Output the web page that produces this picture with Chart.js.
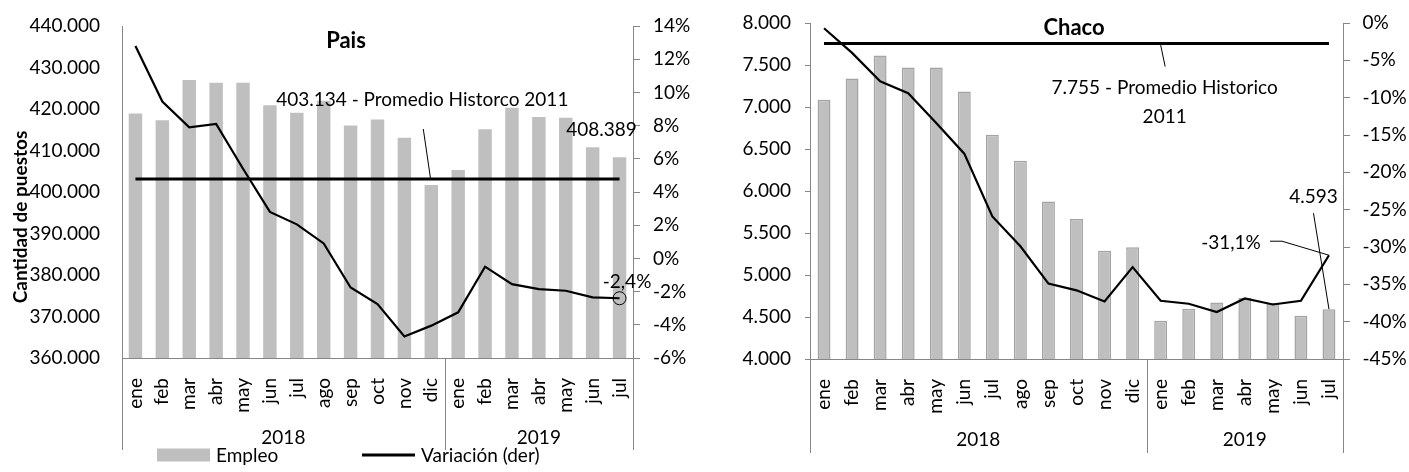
<!DOCTYPE html>
<html><head><meta charset="utf-8">
<script src="https://cdn.jsdelivr.net/npm/chart.js@4/dist/chart.umd.min.js"></script>
<style>
html,body{margin:0;padding:0;background:#fff;}
#wrap{position:relative;width:1409px;height:472px;overflow:hidden;}
canvas{position:absolute;top:0;}
#c1{left:0;}
#c2{left:700px;}
</style></head><body>
<div id="wrap">
<canvas id="c1" width="700" height="472"></canvas>
<canvas id="c2" width="709" height="472"></canvas>
</div>
<script>
// ---------- DATA ----------
const months = ['ene','feb','mar','abr','may','jun','jul','ago','sep','oct','nov','dic','ene','feb','mar','abr','may','jun','jul'];
const years = ['2018','2019'];
const yearSpans = [12, 7];

const paisEmpleo = [418900,417300,427000,426300,426300,420900,419100,422000,416000,417500,413100,401700,405300,415100,420300,418100,417900,410800,408389];
const paisVar = [12.8,9.45,7.9,8.1,5.4,2.8,2.05,0.9,-1.75,-2.75,-4.7,-4.05,-3.25,-0.5,-1.55,-1.85,-1.95,-2.35,-2.4];
const paisAvg = 403134;
const paisLeftTicks = [360000,370000,380000,390000,400000,410000,420000,430000,440000];
const paisRightTicks = [-6,-4,-2,0,2,4,6,8,10,12,14];

const chacoEmpleo = [7087,7340,7614,7471,7471,7186,6670,6361,5876,5667,5289,5329,4456,4595,4674,4726,4667,4515,4593];
const chacoVar = [-0.7,-4.0,-7.8,-9.4,-13.4,-17.5,-25.9,-29.9,-34.9,-35.8,-37.3,-32.7,-37.2,-37.6,-38.7,-36.9,-37.7,-37.2,-31.1];
const chacoAvg = 7755;
const chacoLeftTicks = [4000,4500,5000,5500,6000,6500,7000,7500,8000];
const chacoRightTicks = [-45,-40,-35,-30,-25,-20,-15,-10,-5,0];

// ---------- STYLE ----------
const FONT = 'Lato, "Open Sans", sans-serif';
const FS = 19;
const AXIS = '#868686';
const BAR = '#bfbfbf';
const BAR_EDGE = '#a3a3a3';
Chart.defaults.font.family = FONT;
Chart.defaults.font.size = FS;
Chart.defaults.color = '#000';

const fmtThousands = v => Math.round(v).toString().replace(/\B(?=(\d{3})+(?!\d))/g, '.');
const fmtPct = v => (Math.round(v*10)/10).toString().replace('.', ',') + '%';

function setTicks(arr){ return s => { s.ticks = arr.map(v => ({value: v})); }; }

// ---------- DECORATION PLUGIN ----------
const decor = {
  id: 'decor',
  afterDraw(chart, args, o) {
    const ctx = chart.ctx, x = chart.scales.x, y = chart.scales.y, y1 = chart.scales.y1, ca = chart.chartArea;
    const n = months.length;
    ctx.save();
    // category group separators
    ctx.strokeStyle = AXIS; ctx.lineWidth = 1;
    const bounds = [ca.left];
    let idx = 0;
    yearSpans.forEach(k => {
      idx += k;
      bounds.push(idx >= n ? ca.right : (x.getPixelForValue(idx-1) + x.getPixelForValue(idx)) / 2);
    });
    bounds.forEach(b => {
      const bx = Math.round(b) + 0.5;
      ctx.beginPath(); ctx.moveTo(bx, ca.bottom); ctx.lineTo(bx, o.sepBottom); ctx.stroke();
    });
    ctx.fillStyle = '#000';
    ctx.textAlign = 'center'; ctx.textBaseline = 'middle';
    ctx.font = FS + 'px ' + FONT;
    years.forEach((yr, i) => ctx.fillText(yr, (bounds[i] + bounds[i+1]) / 2, o.yearY));

    // y-axis title
    if (o.yTitle) {
      ctx.save();
      ctx.font = 'bold ' + FS + 'px ' + FONT;
      ctx.translate(o.yTitleX, o.yTitleY);
      ctx.rotate(-Math.PI / 2);
      ctx.fillText(o.yTitle, 0, 0);
      ctx.restore();
    }

    // title
    ctx.font = 'bold 22px ' + FONT;
    ctx.fillText(o.title, o.titleX, o.titleY);

    // average label with leader
    ctx.font = FS + 'px ' + FONT;
    const ax = x.getPixelForValue(o.avgIdx), ay = y.getPixelForValue(o.avg);
    o.avgLines.forEach((t, i) => ctx.fillText(t, ax + o.avgText[0], ay + o.avgText[1] + i * o.avgLineGap));
    ctx.strokeStyle = '#000'; ctx.lineWidth = 1;
    ctx.beginPath();
    ctx.moveTo(ax + o.avgLead[0], ay + o.avgLead[1]);
    ctx.lineTo(ax + o.avgLead[2], ay + o.avgLead[3]);
    ctx.stroke();

    // last bar value label
    const last = n - 1;
    const bx = x.getPixelForValue(last), by = y.getPixelForValue(o.empleo[last]);
    ctx.fillText(fmtThousands(o.empleo[last]), bx + o.barLbl[0], by + o.barLbl[1]);
    if (o.barLead) {
      ctx.beginPath(); ctx.moveTo(bx + o.barLead[0], by + o.barLead[1]); ctx.lineTo(bx, by); ctx.stroke();
    }
    // last line value label
    const lx = x.getPixelForValue(last), ly = y1.getPixelForValue(o.variation[last]);
    ctx.fillText(fmtPct(o.variation[last]), lx + o.varLbl[0], ly + o.varLbl[1]);
    if (o.varLead) {
      ctx.beginPath();
      ctx.moveTo(lx + o.varLead[0], ly + o.varLead[1]);
      ctx.lineTo(lx + o.varLead[2], ly + o.varLead[3]);
      ctx.lineTo(lx, ly);
      ctx.stroke();
    }

    // legend
    const ds = chart.data.datasets;
    const bar = ds[2], ln = ds[0];
    const L = o.legend;
    ctx.textAlign = 'left';
    ctx.fillStyle = bar.backgroundColor;
    ctx.fillRect(L.barX, L.y - L.boxH/2, L.boxW, L.boxH);
    if (bar.borderWidth) {
      ctx.strokeStyle = bar.borderColor; ctx.lineWidth = 1.5;
      ctx.strokeRect(L.barX + 0.75, L.y - L.boxH/2 + 0.75, L.boxW - 1.5, L.boxH - 1.5);
    }
    ctx.fillStyle = '#000';
    ctx.fillText(bar.label, L.barX + L.boxW + L.gap, L.y + 1);
    ctx.strokeStyle = ln.borderColor; ctx.lineWidth = ln.borderWidth + 0.6;
    ctx.beginPath(); ctx.moveTo(L.lineX, L.y); ctx.lineTo(L.lineX + L.boxW, L.y); ctx.stroke();
    ctx.fillText(ln.label, L.lineX + L.boxW + L.gap, L.y + 1);
    ctx.restore();
  }
};

function makeChart(canvasId, cfg) {
  const lastIdx = months.length - 1;
  return new Chart(document.getElementById(canvasId), {
    data: {
      labels: months,
      datasets: [
        { type: 'line', label: cfg.varLabel, data: cfg.variation, yAxisID: 'y1', order: 1,
          borderColor: '#000', borderWidth: cfg.lineW, tension: 0,
          pointRadius: c => (cfg.marker && c.dataIndex === lastIdx) ? 6.5 : 0,
          pointBorderWidth: 1, pointBorderColor: '#000', pointBackgroundColor: 'rgba(0,0,0,0)' },
        { type: 'line', label: 'Promedio', data: months.map(() => cfg.avg), yAxisID: 'y', order: 2,
          borderColor: '#000', borderWidth: 3, pointRadius: 0 },
        { type: 'bar', label: 'Empleo', data: cfg.empleo, yAxisID: 'y', order: 3,
          backgroundColor: BAR, borderColor: BAR_EDGE, borderWidth: cfg.barEdge,
          categoryPercentage: 1, barPercentage: cfg.barPct }
      ]
    },
    options: {
      responsive: false, animation: false, devicePixelRatio: 1,
      layout: { padding: { top: cfg.padTop, left: 0, right: 0, bottom: 0 } },
      plugins: { legend: { display: false }, tooltip: { enabled: false }, decor: cfg.decor },
      scales: {
        x: {
          grid: { display: false },
          border: { display: true, color: AXIS, width: 1 },
          ticks: { autoSkip: false, minRotation: 90, maxRotation: 90, padding: cfg.xPad, color: '#000' },
          afterFit: s => { s.height = cfg.xH; s.paddingLeft = 0; s.paddingRight = 0; }
        },
        y: {
          position: 'left', min: cfg.leftTicks[0], max: cfg.leftTicks[cfg.leftTicks.length-1],
          afterBuildTicks: setTicks(cfg.leftTicks),
          grid: { display: cfg.leftTickLen > 0, drawOnChartArea: false, drawTicks: true, tickLength: cfg.leftTickLen, color: AXIS },
          border: { display: true, color: AXIS, width: 1 },
          ticks: { padding: cfg.leftPad, callback: v => fmtThousands(v), color: '#000' },
          afterFit: s => { s.width = cfg.leftW; s.paddingTop = 0; s.paddingBottom = 0; }
        },
        y1: {
          position: 'right', min: cfg.rightTicks[0], max: cfg.rightTicks[cfg.rightTicks.length-1],
          afterBuildTicks: setTicks(cfg.rightTicks),
          grid: { display: true, drawOnChartArea: false, drawTicks: true, tickLength: 7, color: AXIS },
          border: { display: true, color: AXIS, width: 1 },
          ticks: { padding: cfg.rightPad, callback: v => v + '%', color: '#000' },
          afterFit: s => { s.width = cfg.rightW; s.paddingTop = 0; s.paddingBottom = 0; }
        }
      }
    },
    plugins: [decor]
  });
}

makeChart('c1', {
  empleo: paisEmpleo, variation: paisVar, avg: paisAvg,
  leftTicks: paisLeftTicks, rightTicks: paisRightTicks,
  varLabel: 'Variación (der)', lineW: 2.2, marker: true, barEdge: 0, barPct: 0.5,
  padTop: 26, xH: 114, leftW: 122, rightW: 67, leftTickLen: 0, leftPad: 22, rightPad: 13, xPad: 12,
  decor: {
    empleo: paisEmpleo, variation: paisVar, avg: paisAvg,
    yTitle: 'Cantidad de puestos', yTitleX: 21, yTitleY: 217,
    sepBottom: 450, yearY: 438, title: 'Pais', titleX: 346, titleY: 41,
    avgIdx: 11, avgLines: ['403.134 - Promedio Historco 2011'], avgText: [-9, -79], avgLineGap: 0,
    avgLead: [-8, -50, -0.7, 0],
    barLbl: [-18, -27], barLead: null,
    varLbl: [7.5, -16.5], varLead: null,
    legend: { barX: 157, lineX: 362, y: 455, boxW: 53, boxH: 13, gap: 6 }
  }
});

makeChart('c2', {
  empleo: chacoEmpleo, variation: chacoVar, avg: chacoAvg,
  leftTicks: chacoLeftTicks, rightTicks: chacoRightTicks,
  varLabel: 'Var i/a (dcha)', lineW: 2.2, marker: false, barEdge: 1.5, barPct: 0.46,
  padTop: 23, xH: 113, leftW: 110, rightW: 66, leftTickLen: 5, leftPad: 14, rightPad: 12.5, xPad: 12,
  decor: {
    empleo: chacoEmpleo, variation: chacoVar, avg: chacoAvg,
    yTitle: null,
    sepBottom: 453, yearY: 440, title: 'Chaco', titleX: 374, titleY: 28,
    avgIdx: 12, avgLines: ['7.755 - Promedio Historico', '2011'], avgText: [4, 44.5], avgLineGap: 28.5,
    avgLead: [0, 1.5, 4.5, 23],
    barLbl: [-15.5, -112], barLead: [-15.5, -96],
    varLbl: [-98, -12.5], varLead: [-59, -14, -47, -14],
    legend: { barX: 917, lineX: 1067, y: 465, boxW: 52, boxH: 13, gap: 6 }
  }
});
</script>
</body></html>
